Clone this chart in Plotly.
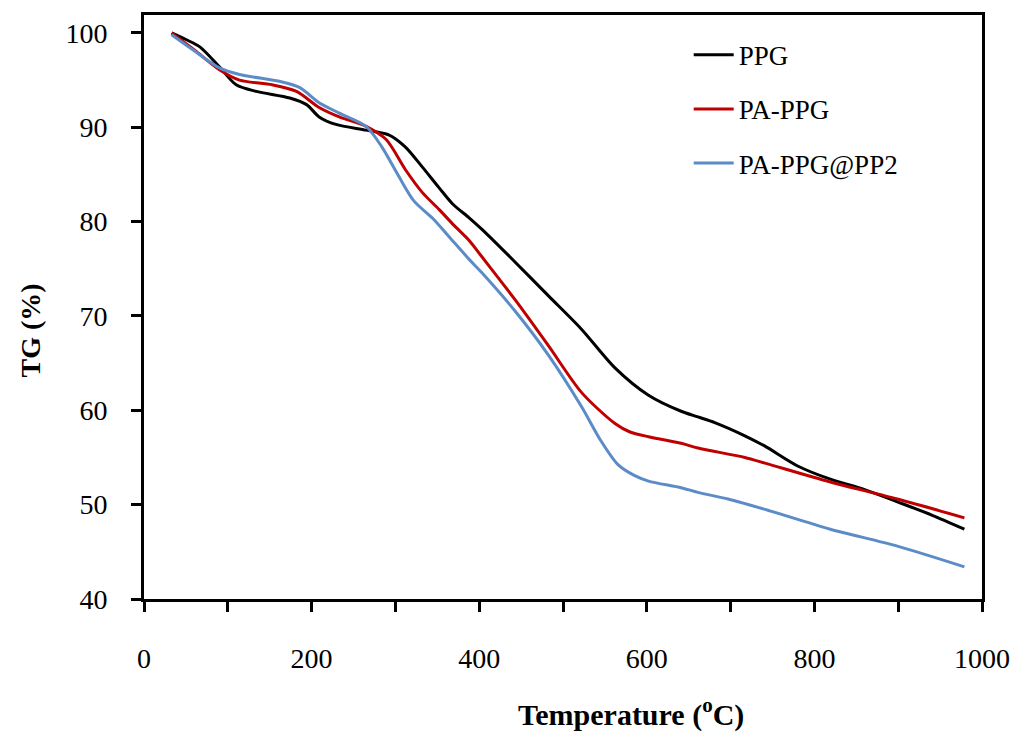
import plotly.graph_objects as go

# ---- data ----
ppg_t = [33, 50, 67, 90, 110, 134, 174, 194, 209, 229, 265, 292, 312, 332, 352, 368, 388, 403,
         443, 483, 522, 562, 602, 641, 661, 681, 717, 741, 780, 819, 860, 899, 940, 979]
ppg_tg = [100, 99.3, 98.5, 96.4, 94.5, 93.8, 93.1, 92.4, 91.1, 90.3, 89.7, 89.2, 87.9, 85.8, 83.6, 81.9, 80.4, 79.2,
          75.7, 72.1, 68.6, 64.5, 61.6, 59.9, 59.3, 58.7, 57.3, 56.2, 54.1, 52.7, 51.6, 50.3, 48.9, 47.4]

pa_t = [33, 60, 90, 114, 153, 182, 209, 233, 265, 289, 312, 332, 352, 370, 388, 403,
        443, 483, 522, 562, 580, 602, 641, 661, 717, 741, 819, 899, 979]
pa_tg = [100, 98.2, 96.1, 95.0, 94.5, 93.8, 92.1, 91.1, 90.1, 88.7, 85.5, 83.1, 81.3, 79.6, 78.0, 76.3,
         71.7, 66.8, 61.9, 58.6, 57.7, 57.2, 56.5, 56.0, 55.0, 54.4, 52.4, 50.6, 48.6]

pp2_t = [33, 60, 90, 114, 165, 186, 209, 233, 265, 284, 304, 322, 345, 364, 388, 403,
         443, 483, 522, 545, 565, 585, 602, 641, 661, 697, 741, 819, 899, 979]
pp2_tg = [99.8, 98.1, 96.3, 95.6, 94.8, 94.2, 92.6, 91.5, 90.1, 87.9, 84.8, 82.2, 80.3, 78.4, 76.0, 74.6,
          70.5, 65.8, 60.4, 56.8, 54.3, 53.1, 52.5, 51.8, 51.3, 50.6, 49.5, 47.4, 45.6, 43.4]

series_names = ["PPG", "PA-PPG", "PA-PPG@PP2"]
series_colors = ["#000000", "#C00000", "#5B8CC8"]

x_tick_vals = [0, 200, 400, 600, 800, 1000]
x_tick_text = ["0", "200", "400", "600", "800", "1000"]
y_tick_vals = [40, 50, 60, 70, 80, 90, 100]

FONT = "Liberation Serif"

fig = go.Figure()
for i, (t, tg) in enumerate([(ppg_t, ppg_tg), (pa_t, pa_tg), (pp2_t, pp2_tg)]):
    fig.add_trace(go.Scatter(
        x=t, y=tg, mode="lines", name=series_names[i],
        legendgroup=f"g{i}",
        line=dict(color=series_colors[i], width=3, shape="spline", smoothing=0.8),
    ))

L, R, T, B = 144, 37, 15, 133
W, H = 1022, 732
plot_w = W - L - R
plot_h = H - T - B


def px_to_paper(px, py):
    return (px - L) / plot_w, (H - B - py) / plot_h


fig.update_layout(
    width=W, height=H,
    margin=dict(l=L, r=R, t=T, b=B),
    paper_bgcolor="white", plot_bgcolor="white",
    font=dict(family=FONT, size=27, color="#000000"),
    showlegend=True,
    legend=dict(x=0.650, y=0.973, xanchor="left", yanchor="top",
                bgcolor="rgba(0,0,0,0)", font=dict(family=FONT, size=27),
                tracegroupgap=16, itemwidth=40),
    xaxis=dict(range=[0, 1000], tickvals=x_tick_vals, ticktext=x_tick_text,
               ticks="outside", ticklen=10, tickwidth=2.5, tickcolor="#000",
               minor=dict(dtick=100, tick0=0, ticks="outside", ticklen=10,
                          tickwidth=2.5, tickcolor="#000", showgrid=False),
               showline=True, linewidth=3, linecolor="#000", mirror=True,
               showgrid=False, zeroline=False, ticklabelstandoff=22,
               tickfont=dict(family=FONT, size=28)),
    yaxis=dict(range=[40, 101.9], tickvals=y_tick_vals,
               ticks="outside", ticklen=10, tickwidth=2.5, tickcolor="#000",
               showline=True, linewidth=3, linecolor="#000", mirror=True,
               showgrid=False, zeroline=False, ticklabelstandoff=18,
               tickfont=dict(family=FONT, size=28)),
)

ax, ay = px_to_paper(633, 712)
fig.add_annotation(text="<b>Temperature (<sup>o</sup>C)</b>", x=ax, y=ay, xref="paper", yref="paper",
                   showarrow=False, xanchor="center", yanchor="middle",
                   font=dict(family=FONT, size=30))
tx, ty = px_to_paper(30, 330)
fig.add_annotation(text="<b>TG (%)</b>", x=tx, y=ty, xref="paper", yref="paper",
                   showarrow=False, textangle=-90, xanchor="center", yanchor="middle",
                   font=dict(family=FONT, size=28))

fig.write_html("out.html")
